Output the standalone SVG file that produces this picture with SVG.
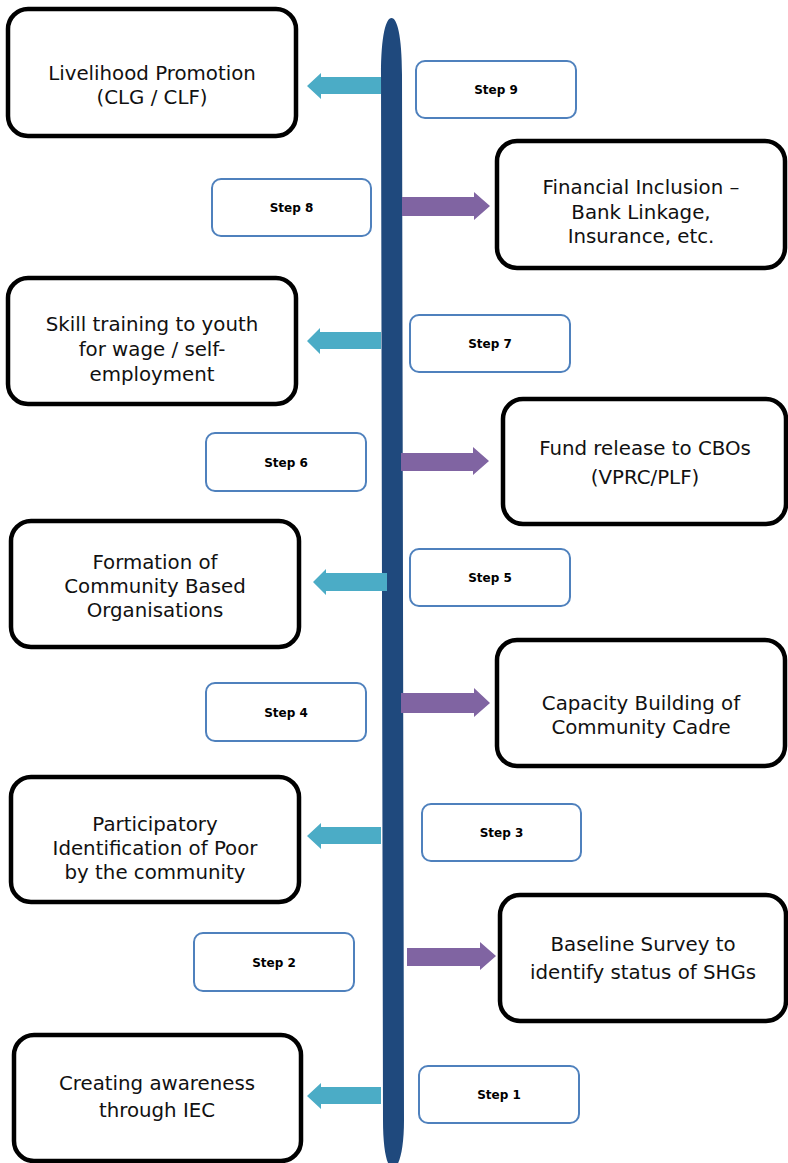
<svg xmlns="http://www.w3.org/2000/svg" width="788" height="1163" viewBox="0 0 788 1163">
<style>
.box{fill:#fff;stroke:#000;stroke-width:4.5}
.step{fill:#fff;stroke:#4f81bd;stroke-width:2}
.t{font-family:"DejaVu Sans",Verdana,sans-serif;font-size:19.8px;fill:#111;text-anchor:middle}
.s{font-family:"DejaVu Sans",Verdana,sans-serif;font-size:12px;font-weight:bold;fill:#000;text-anchor:middle}
.la{fill:#4bacc6}
.ra{fill:#8064a2}
</style>
<rect width="788" height="1163" fill="#fff"/>
<g id="connectors">
<path id="timeline" d="M381,75 C381,35 386,18 391.5,18 C397,18 402,35 402,75 L404,1120 C404,1150 399,1168 393,1168 C387,1168 383,1150 383,1120 Z" fill="#1f497d"/>
<path class="la" d="M381,77 L321,77 L321,73 L307,86 L321,99 L321,94 L381,94 Z"/>
<path class="la" d="M381,332 L320,332 L320,328 L307,341 L320,354 L320,349 L381,349 Z"/>
<path class="la" d="M387,573 L326,573 L326,569 L313,582 L326,595 L326,591 L387,591 Z"/>
<path class="la" d="M381,827 L321,827 L321,823 L307,836 L321,849 L321,844 L381,844 Z"/>
<path class="la" d="M381,1087 L321,1087 L321,1083 L307,1096 L321,1109 L321,1104 L381,1104 Z"/>
<path class="ra" d="M402,197 L474,197 L474,192 L490,206 L474,220 L474,216 L402,216 Z"/>
<path class="ra" d="M401,453 L473,453 L473,447 L489,461 L473,475 L473,471 L401,471 Z"/>
<path class="ra" d="M401,693 L474,693 L474,688 L490,703 L474,717 L474,713 L401,713 Z"/>
<path class="ra" d="M407,948 L480,948 L480,942 L496,956 L480,970 L480,966 L407,966 Z"/>
</g>
<g id="node-livelihood"><rect class="box" x="8" y="9" width="288" height="127" rx="20"/>
<text class="t" x="152" y="80">Livelihood Promotion</text><text class="t" x="152" y="104">(CLG / CLF)</text></g>
<g id="node-financial"><rect class="box" x="497" y="141" width="288" height="127" rx="20"/>
<text class="t" x="641" y="194">Financial Inclusion –</text><text class="t" x="641" y="218.5">Bank Linkage,</text><text class="t" x="641" y="243">Insurance, etc.</text></g>
<g id="node-skill"><rect class="box" x="8" y="278" width="288" height="126" rx="20"/>
<text class="t" x="152" y="331">Skill training to youth</text><text class="t" x="152" y="356">for wage / self-</text><text class="t" x="152" y="381">employment</text></g>
<g id="node-fund"><rect class="box" x="503" y="399" width="283" height="125" rx="20"/>
<text class="t" x="645" y="455">Fund release to CBOs</text><text class="t" x="645" y="484">(VPRC/PLF)</text></g>
<g id="node-formation"><rect class="box" x="11" y="521" width="288" height="126" rx="20"/>
<text class="t" x="155" y="569">Formation of</text><text class="t" x="155" y="593">Community Based</text><text class="t" x="155" y="617">Organisations</text></g>
<g id="node-capacity"><rect class="box" x="497" y="640" width="288" height="126" rx="20"/>
<text class="t" x="641" y="710">Capacity Building of</text><text class="t" x="641" y="734">Community Cadre</text></g>
<g id="node-participatory"><rect class="box" x="11" y="777" width="288" height="125" rx="20"/>
<text class="t" x="155" y="831">Participatory</text><text class="t" x="155" y="855">Identification of Poor</text><text class="t" x="155" y="879">by the community</text></g>
<g id="node-baseline"><rect class="box" x="500" y="895" width="286" height="126" rx="20"/>
<text class="t" x="643" y="951">Baseline Survey to</text><text class="t" x="643" y="979">identify status of SHGs</text></g>
<g id="node-creating"><rect class="box" x="14" y="1035" width="287" height="126" rx="20"/>
<text class="t" x="157" y="1090">Creating awareness</text><text class="t" x="157" y="1117">through IEC</text></g>
<g id="step-9"><rect class="step" x="416" y="61" width="160" height="57" rx="9"/><text class="s" x="496" y="94">Step 9</text></g>
<g id="step-8"><rect class="step" x="212" y="179" width="159" height="57" rx="9"/><text class="s" x="291.5" y="212">Step 8</text></g>
<g id="step-7"><rect class="step" x="410" y="315" width="160" height="57" rx="9"/><text class="s" x="490" y="348">Step 7</text></g>
<g id="step-6"><rect class="step" x="206" y="433" width="160" height="58" rx="9"/><text class="s" x="286" y="466.5">Step 6</text></g>
<g id="step-5"><rect class="step" x="410" y="549" width="160" height="57" rx="9"/><text class="s" x="490" y="582">Step 5</text></g>
<g id="step-4"><rect class="step" x="206" y="683" width="160" height="58" rx="9"/><text class="s" x="286" y="716.5">Step 4</text></g>
<g id="step-3"><rect class="step" x="422" y="804" width="159" height="57" rx="9"/><text class="s" x="501.5" y="837">Step 3</text></g>
<g id="step-2"><rect class="step" x="194" y="933" width="160" height="58" rx="9"/><text class="s" x="274" y="966.5">Step 2</text></g>
<g id="step-1"><rect class="step" x="419" y="1066" width="160" height="57" rx="9"/><text class="s" x="499" y="1099">Step 1</text></g>
</svg>
